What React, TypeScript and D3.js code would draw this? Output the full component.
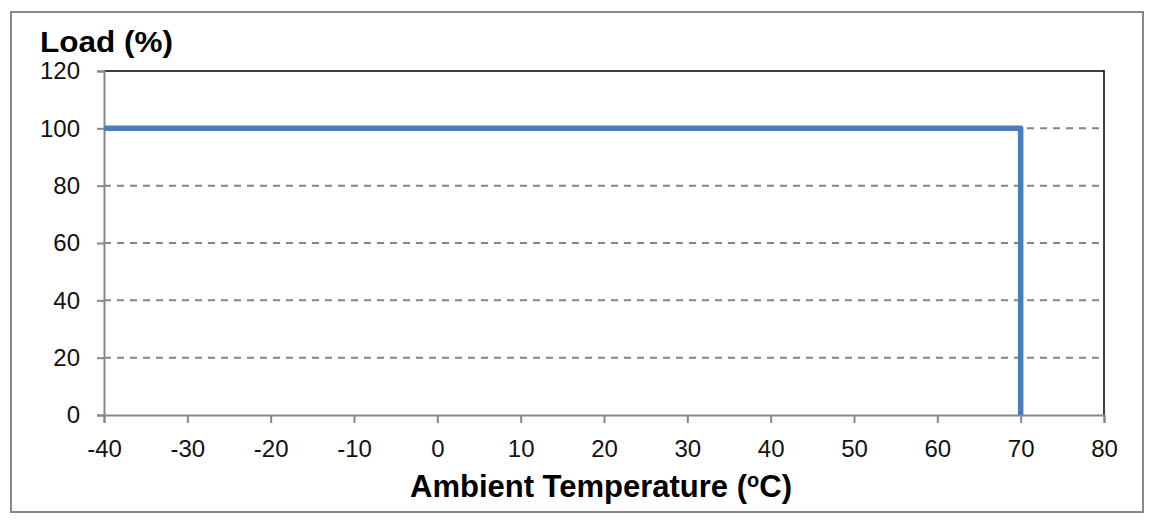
import { useEffect, useRef } from "react";
import * as d3 from "d3";

const xTicks = [-40, -30, -20, -10, 0, 10, 20, 30, 40, 50, 60, 70, 80];
const yTicks = [0, 20, 40, 60, 80, 100, 120];
const gridValues = [20, 40, 60, 80, 100];
const deratingTemp = [-40, 70, 70];
const deratingLoad = [100, 100, 0];

export default function App() {
  const svgRef = useRef<SVGSVGElement | null>(null);

  useEffect(() => {
    if (!svgRef.current) return;
    const svg = d3.select(svgRef.current);
    svg.selectAll("*").remove();

    const width = 1154;
    const height = 525;
    const margin = { top: 71, right: 50, bottom: 110, left: 104 };
    const innerW = width - margin.left - margin.right;
    const innerH = height - margin.top - margin.bottom;

    const x = d3.scaleLinear().domain([-40, 80]).range([0, innerW]);
    const y = d3.scaleLinear().domain([0, 120]).range([innerH, 0]);
    const font = "'Liberation Sans', Arial, sans-serif";

    svg.attr("viewBox", `0 0 ${width} ${height}`);

    // outer frame
    svg.append("rect")
      .attr("x", 11).attr("y", 12).attr("width", 1132).attr("height", 500)
      .attr("fill", "#fff").attr("stroke", "#888").attr("stroke-width", 2);

    const g = svg.append("g").attr("transform", `translate(${margin.left},${margin.top})`);

    // grid
    g.append("g")
      .selectAll("line")
      .data(gridValues)
      .join("line")
      .attr("x1", 0).attr("x2", innerW)
      .attr("y1", (d) => y(d)).attr("y2", (d) => y(d))
      .attr("stroke", "#858585")
      .attr("stroke-width", 2)
      .attr("stroke-dasharray", "7,6");

    // top and right border
    g.append("path")
      .attr("d", `M0,${y(120)}H${innerW}V${innerH}`)
      .attr("fill", "none").attr("stroke", "#000").attr("stroke-width", 1.5);

    // y axis
    g.append("g")
      .call(d3.axisLeft(y).tickValues(yTicks).tickSize(7).tickPadding(17).tickFormat((d) => String(d)))
      .call((sel) => sel.select(".domain").attr("stroke", "#888").attr("stroke-width", 2))
      .call((sel) => sel.selectAll(".tick line").attr("stroke", "#888").attr("stroke-width", 2))
      .call((sel) => sel.selectAll("text")
        .attr("fill", "#111").attr("font-size", 24).attr("font-family", font));

    // x axis
    g.append("g")
      .attr("transform", `translate(0,${innerH})`)
      .call(d3.axisBottom(x).tickValues(xTicks).tickSize(8).tickPadding(17).tickFormat((d) => String(d)))
      .call((sel) => sel.select(".domain").attr("stroke", "#888").attr("stroke-width", 2))
      .call((sel) => sel.selectAll(".tick line").attr("stroke", "#888").attr("stroke-width", 2))
      .call((sel) => sel.selectAll("text")
        .attr("fill", "#111").attr("font-size", 24).attr("font-family", font));

    // derating line
    const pts = deratingTemp.map((t, i) => [t, deratingLoad[i]] as [number, number]);
    const line = d3.line<[number, number]>().x((d) => x(d[0])).y((d) => y(d[1]));
    g.append("path")
      .datum(pts)
      .attr("d", line)
      .attr("fill", "none")
      .attr("stroke", "#4a7ebb")
      .attr("stroke-width", 5.5)
      .attr("stroke-linejoin", "round");

    // titles
    svg.append("text")
      .attr("x", 40).attr("y", 52)
      .attr("font-family", font).attr("font-weight", "bold").attr("font-size", 29)
      .attr("fill", "#000")
      .attr("textLength", 133)
      .attr("lengthAdjust", "spacingAndGlyphs")
      .text("Load (%)");

    const xt = svg.append("text")
      .attr("x", 601).attr("y", 497)
      .attr("text-anchor", "middle")
      .attr("font-family", font).attr("font-weight", "bold").attr("font-size", 31)
      .attr("fill", "#000");
    xt.append("tspan").text("Ambient Temperature (");
    xt.append("tspan").attr("font-size", 20).attr("dy", -10).text("o");
    xt.append("tspan").attr("dy", 10).text("C)");
  }, []);

  return (
    <svg
      ref={svgRef}
      width={1154}
      height={525}
      style={{ position: "absolute", left: 0, top: 0 }}
    />
  );
}
